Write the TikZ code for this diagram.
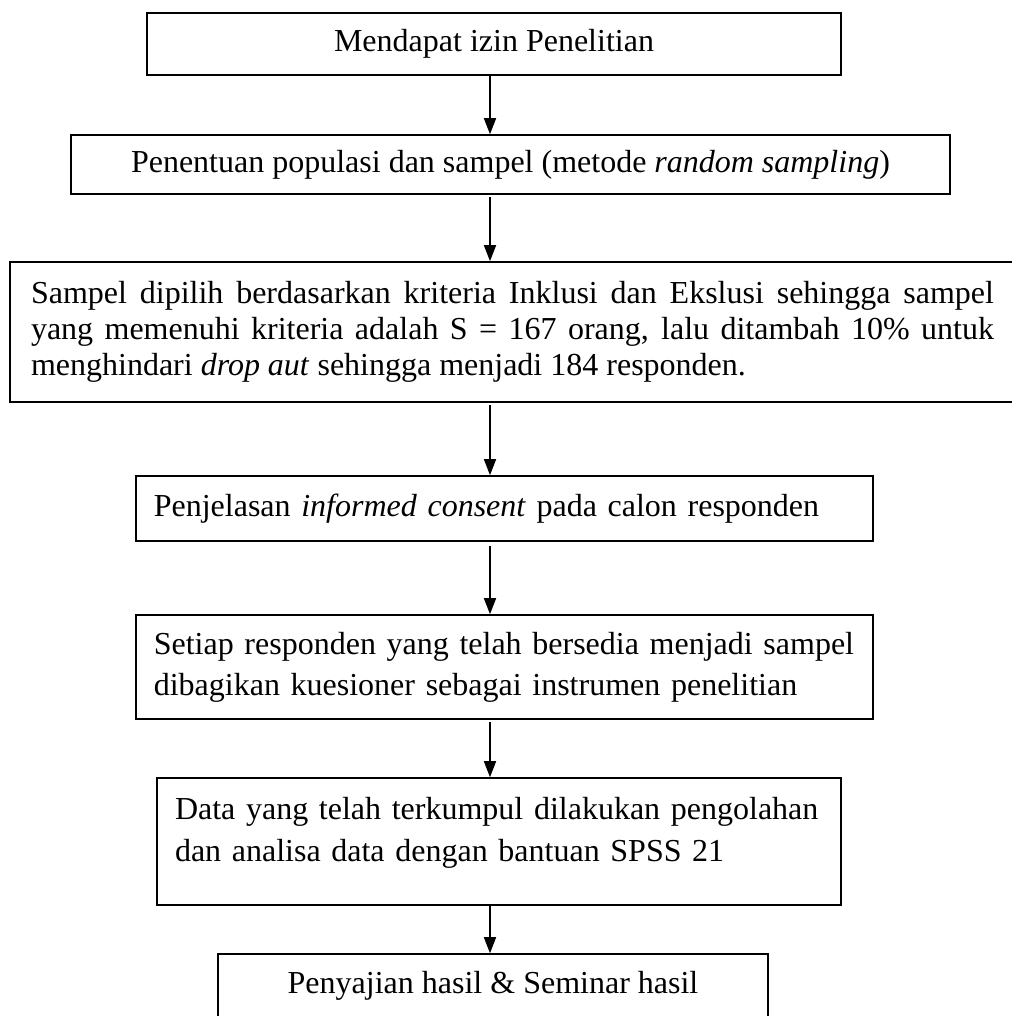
\documentclass[tikz,border=0pt]{standalone}
\usepackage{fontspec}
\setmainfont{Liberation Serif}
\usetikzlibrary{arrows.meta}

\begin{document}
\begin{tikzpicture}[x=0.375pt,y=-0.375pt]

\useasboundingbox (0,0) rectangle (1012,1016);

\tikzstyle{box}=[draw,line width=0.6pt,rectangle,inner ysep=2pt,font=\fontsize{12}{13.5}\selectfont]
\tikzstyle{arr}=[line width=0.6pt,-{Triangle[length=6pt,width=4.5pt]}]

\node (izin) [box,minimum width=260.25pt,minimum height=23.25pt,align=center] at (494,44) {Mendapat izin Penelitian};

\node (populasi) [box,minimum width=329.6pt,minimum height=22.1pt,align=center] at (510.5,164.5) {Penentuan populasi dan sampel (metode \textit{random sampling})};

\node (sampel) [box,minimum width=376.9pt,minimum height=52.5pt,text width=361.1pt,inner xsep=7.9pt,align=justify] at (512.5,332) {Sampel dipilih berdasarkan kriteria Inklusi dan Ekslusi sehingga sampel\linebreak yang memenuhi kriteria adalah S = 167 orang, lalu ditambah 10\% untuk\linebreak menghindari \textit{drop aut} sehingga menjadi 184 responden.};

\node (consent) [box,minimum width=276.4pt,minimum height=24.4pt,text width=263pt,inner xsep=6.7pt,align=left] at (504.5,508.5) {Penjelasan \textit{informed consent} pada calon responden};

\node (kuesioner) [box,minimum width=276.4pt,minimum height=39pt,text width=263pt,inner xsep=6.7pt,align=left,font=\fontsize{12}{15.4}\selectfont] at (504.5,667) {Setiap responden yang telah bersedia menjadi sampel\\ dibagikan kuesioner sebagai instrumen penelitian};

\node (olah) [box,minimum width=256.5pt,minimum height=47.6pt,text width=243pt,inner xsep=6.75pt,align=left,font=\fontsize{12}{15.75}\selectfont,text height=9pt,text depth=25.8pt] at (499,841.5) {Data yang telah terkumpul dilakukan pengolahan\\ dan analisa data dengan bantuan SPSS 21};

\node (hasil) [box,minimum width=206.25pt,minimum height=23.6pt,align=center] at (493,985.5) {Penyajian hasil \& Seminar hasil};

% arrows
\coordinate (ax) at (490,0);
\draw [arr] (izin.south -| ax) -- (populasi.north -| ax);
\draw [arr,shorten <=1pt] (populasi.south -| ax) -- (sampel.north -| ax);
\draw [arr,shorten <=1pt] (sampel.south -| ax) -- (consent.north -| ax);
\draw [arr,shorten <=1.5pt] (consent.south -| ax) -- (kuesioner.north -| ax);
\draw [arr,shorten <=1pt] (kuesioner.south -| ax) -- (olah.north -| ax);
\draw [arr] (olah.south -| ax) -- (hasil.north -| ax);

\end{tikzpicture}
\end{document}
